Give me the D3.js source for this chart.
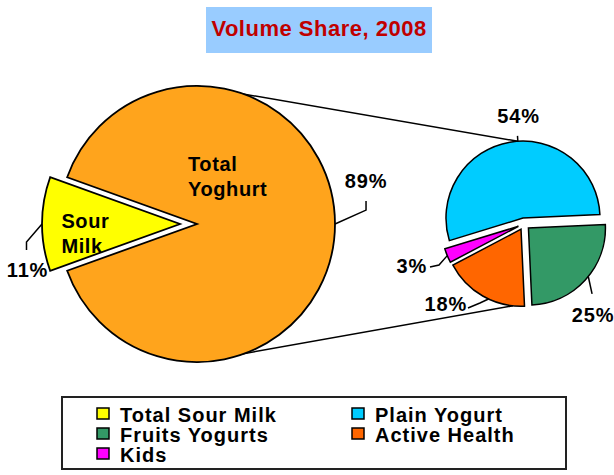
<!DOCTYPE html>
<html>
<head>
<meta charset="utf-8">
<script src="https://cdn.jsdelivr.net/npm/d3@7"></script>
<style>
  body { margin: 0; background: #fff; }
  svg { display: block; font-family: "Liberation Sans", Arial, sans-serif; font-weight: bold; }
</style>
</head>
<body>
<svg id="chart" width="614" height="475"></svg>
<script>
// data
const mainCategories = ['Total Sour Milk', 'Total Yoghurt'];
const mainNames = [['Sour', 'Milk'], ['Total', 'Yoghurt']];
const mainValues = [11, 89];
const subCategories = ['Plain Yogurt', 'Fruits Yogurts', 'Active Health', 'Kids'];
const subValues = [54, 25, 18, 3];
const legendItems = ['Total Sour Milk', 'Plain Yogurt', 'Fruits Yogurts', 'Active Health', 'Kids'];
const legendColors = ['#FFFF00', '#00CCFF', '#339966', '#FF6600', '#FF00FF'];
const titleText = 'Volume Share, 2008';

const color = d3.scaleOrdinal().domain(legendItems.concat(['Total Yoghurt'])).range(legendColors.concat(['#FFA41C']));

const svg = d3.select('#chart');
const rad = (deg) => deg * Math.PI / 180;
const pt = (c, a, r) => [c[0] + r * Math.sin(a), c[1] - r * Math.cos(a)];
const mid = (d) => (d.startAngle + d.endAngle) / 2;

// title
svg.append('rect').attr('x', 206).attr('y', 7).attr('width', 226).attr('height', 46).attr('fill', '#99CCFF');
svg.append('text').attr('x', 319).attr('y', 36).attr('text-anchor', 'middle')
  .style('font-size', '22px').style('letter-spacing', '0.5px').attr('fill', '#C00000').text(titleText);

// main pie
const c1 = [197, 224], r1 = 138;
const mainTotal = d3.sum(mainValues);
const mainStart = Math.PI * 1.5 - Math.PI * mainValues[0] / mainTotal;
const mainPie = d3.pie().sort(null).startAngle(mainStart).endAngle(mainStart + 2 * Math.PI)(mainValues);
const mainExplode = [17, 0];
const mainArc = d3.arc().innerRadius(0).outerRadius(r1);
mainPie.forEach((d, i) => { d.center = pt(c1, mid(d), mainExplode[i]); });

// sub pie
const c2 = [524, 224], r2 = 77;
const subTotal = d3.sum(subValues);
const subStart = rad(-107);
const subPie = d3.pie().sort(null).startAngle(subStart).endAngle(subStart + 2 * Math.PI)(subValues);
const subArc = d3.arc().innerRadius(0).outerRadius(r2);
subPie.forEach((d) => { d.center = pt(c2, mid(d), 6); });

// connector lines (drawn under the pies)
const topA = pt(c1, 0, r1), topB = pt(subPie[0].center, rad(-3.8), r2);
const botA = pt(c1, Math.PI, r1), botB = pt(subPie[2].center, rad(186), r2);
[[topA, topB], [botA, botB]].forEach((l) => {
  svg.append('line').attr('x1', l[0][0]).attr('y1', l[0][1]).attr('x2', l[1][0]).attr('y2', l[1][1])
    .attr('stroke', '#000').attr('stroke-width', 1.5);
});

svg.append('g').selectAll('path').data(mainPie).enter().append('path')
  .attr('transform', (d) => `translate(${d.center})`)
  .attr('d', mainArc)
  .attr('fill', (d, i) => color(mainCategories[i]))
  .attr('stroke', '#000').attr('stroke-width', 1.8).attr('stroke-linejoin', 'miter');

svg.append('g').selectAll('path').data(subPie).enter().append('path')
  .attr('transform', (d) => `translate(${d.center})`)
  .attr('d', subArc)
  .attr('fill', (d, i) => color(subCategories[i]))
  .attr('stroke', '#000').attr('stroke-width', 1.5);

// names inside main slices (polar position from slice center)
const mainNameLayout = [{ a: 268, k: 0.86 }, { a: -9.6, k: 0.39 }];
mainPie.forEach((d, i) => {
  const p = pt(d.center, rad(mainNameLayout[i].a), r1 * mainNameLayout[i].k);
  const t = svg.append('text').attr('x', p[0]).attr('y', p[1]).style('font-size', '20px').style('letter-spacing', '0.6px');
  mainNames[i].forEach((s, j) => t.append('tspan').attr('x', p[0]).attr('dy', j ? 25 : 0).text(s));
});

// percent labels with leaders
function percentLabels(pieData, total, radius, layout) {
  pieData.forEach((d, i) => {
    const L = layout[i];
    const s = pt(d.center, L.start == null ? mid(d) : rad(L.start), radius);
    const e = pt(d.center, rad(L.a), radius * L.k);
    const t = [e[0] + L.tail[0], e[1] + L.tail[1]];
    svg.append('polyline').attr('points', [s, e, t].map((p) => p.join(',')).join(' '))
      .attr('fill', 'none').attr('stroke', '#000').attr('stroke-width', 1.5);
    svg.append('text').attr('x', t[0] + L.text[0]).attr('y', t[1] + L.text[1])
      .attr('text-anchor', L.anchor).style('font-size', '20px').style('letter-spacing', '0.8px')
      .text(Math.round(d.data / total * 100) + '%');
  });
}
percentLabels(mainPie, mainTotal, r1, [
  { a: 263.3, k: 1.12, tail: [0, 8], text: [1, 27], anchor: 'middle' },
  { a: 85.3, k: 1.229, tail: [0, -9], text: [0, -13], anchor: 'middle' }
]);
percentLabels(subPie, subTotal, r2, [
  { start: -3.8, a: -3.8, k: 1.07, tail: [0, 0], text: [1, -13], anchor: 'middle' },
  { start: 129, a: 136, k: 1.19, tail: [0, 0], text: [1, 28], anchor: 'middle' },
  { start: 205, a: 209.1, k: 1.096, tail: [-12, 5], text: [-1, 3], anchor: 'end' },
  { a: 244, k: 1.148, tail: [-9, 2], text: [-3, 6], anchor: 'end' }
]);

// legend
svg.append('rect').attr('x', 62).attr('y', 397).attr('width', 504).attr('height', 72)
  .attr('fill', '#fff').attr('stroke', '#222').attr('stroke-width', 2);
const lg = svg.append('g').selectAll('g').data(legendItems).enter().append('g')
  .attr('transform', (d, i) => `translate(${i % 2 ? 352 : 97}, ${408 + Math.floor(i / 2) * 20})`);
lg.append('rect').attr('width', 12).attr('height', 11).attr('fill', (d) => color(d)).attr('stroke', '#000').attr('stroke-width', 1.5);
lg.append('text').attr('x', 23).attr('y', 14).style('font-size', '20px').style('letter-spacing', '1px').text((d) => d);
</script>
</body>
</html>
